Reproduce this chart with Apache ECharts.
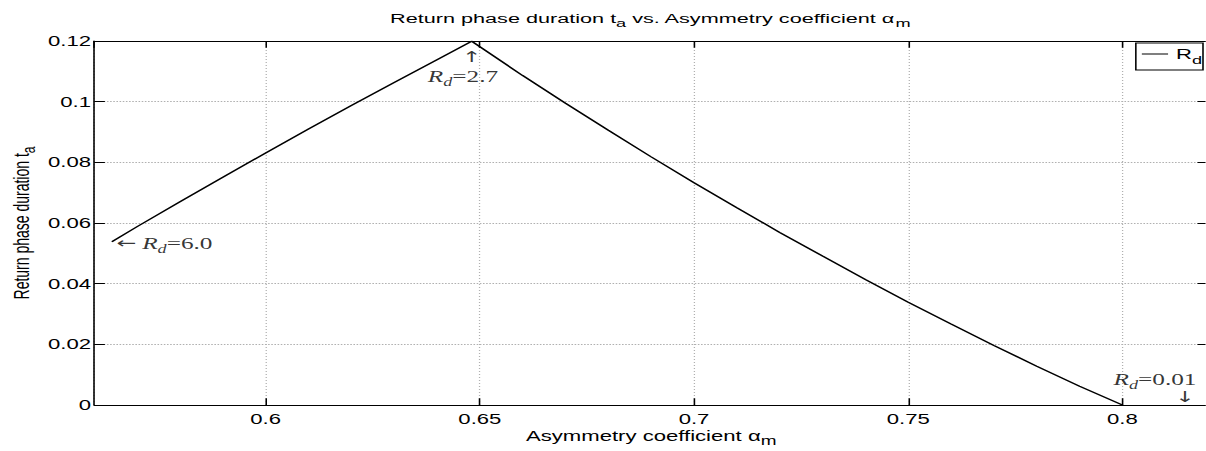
<!DOCTYPE html>
<html><head><meta charset="utf-8">
<script src="https://cdn.jsdelivr.net/npm/echarts@6/dist/echarts.min.js"></script>
<style>
html,body{margin:0;padding:0;background:#fff;overflow:hidden;width:1206px;height:451px}
#wrap{position:absolute;left:0;top:0;width:1206px;height:451px;overflow:hidden;background:#fff}
#c{position:absolute;left:0;top:0;height:451px;transform-origin:0 0}
</style>
</head><body><div id="wrap"><div id="c"></div></div>
<script>
// ---- data ----
const alphaM   = [0.5641, 0.57, 0.58, 0.59, 0.60, 0.61, 0.62, 0.63, 0.64, 0.6481,
                  0.66, 0.67, 0.68, 0.69, 0.70, 0.71, 0.72, 0.73, 0.74, 0.75,
                  0.76, 0.77, 0.78, 0.79, 0.80];
const returnTa = [0.0538, 0.0588, 0.0670, 0.0751, 0.0831, 0.0910, 0.0987, 0.1063, 0.1138, 0.1199,
                  0.1086, 0.0995, 0.0906, 0.0818, 0.0733, 0.0650, 0.0569, 0.0491, 0.0414, 0.0339,
                  0.0267, 0.0196, 0.0128, 0.0062, 0.0000];
const xTicks = [0.6, 0.65, 0.7, 0.75, 0.8];
const yTicks = [0, 0.02, 0.04, 0.06, 0.08, 0.1, 0.12];
const annX = [0.5641, 0.6481, 0.8146];
const annY = [0.0538, 0.1200, 0.0000];
const annRd = ['6.0', '2.7', '0.01'];
const annArrow = ['\u2190', '\u2191', '\u2193'];
const seriesName = 'R_d';

// ---- layout (reference figure is horizontally stretched) ----
const S = 1.58;
const W0 = 1206 / S;
const el = document.getElementById('c');
el.style.width = W0 + 'px';
el.style.transform = 'scaleX(' + S + ')';

const SANS = 'Liberation Sans, Helvetica, Arial, sans-serif';
const SERIF = 'Liberation Serif, Times New Roman, serif';
const ARROW = 'DejaVu Sans, sans-serif';

function subRich(fs, sfs, drop, fam) {
  return {
    n: {fontSize: fs, lineHeight: fs, verticalAlign: 'top', fontFamily: fam, color: '#000'},
    s: {fontSize: sfs, lineHeight: sfs, verticalAlign: 'top', padding: [drop, 0, 0, 0], fontFamily: fam, color: '#000'}
  };
}
const tb = {textBorderWidth: 0, textBorderColor: 'transparent', textShadowBlur: 0};
const annRich = {
  i: Object.assign({fontSize: 16, lineHeight: 16, verticalAlign: 'top', fontStyle: 'italic', fontFamily: SERIF, color: '#000'}, tb),
  d: Object.assign({fontSize: 11.5, lineHeight: 11.5, verticalAlign: 'top', fontStyle: 'italic', padding: [7, 0, 0, 0], fontFamily: SERIF, color: '#000'}, tb),
  n: Object.assign({fontSize: 16, lineHeight: 16, verticalAlign: 'top', fontFamily: SERIF, color: '#000'}, tb),
  a: Object.assign({fontSize: 15, lineHeight: 11, fontFamily: ARROW, color: '#000'}, tb)
};

// offsets in reference pixels
const arrowOff = [[14.3, 1.3], [0, 16], [0, -8]];
const textOff = [[30.3, 2.3], [-8.7, 36], [-30, -25]];
const textAlign = ['left', 'center', 'center'];

const annData = [];
for (let i = 0; i < annX.length; i++) {
  annData.push({
    value: [annX[i], annY[i]],
    label: Object.assign({show: true, position: 'inside', align: 'center', verticalAlign: 'middle', color: '#000',
            fontFamily: ARROW, fontSize: 15, lineHeight: 11,
            offset: [arrowOff[i][0] / S, arrowOff[i][1]],
            formatter: '{a|' + annArrow[i] + '}', rich: annRich}, tb)
  });
  annData.push({
    value: [annX[i], annY[i]],
    label: Object.assign({show: true, position: 'inside', align: textAlign[i], verticalAlign: 'middle', color: '#000',
            offset: [textOff[i][0] / S, textOff[i][1]],
            formatter: '{i|R}{d|d}{n|=' + annRd[i] + '}', rich: annRich}, tb)
  });
}

const chart = echarts.init(el, null, {renderer: 'svg', width: W0, height: 451});
const axisLineStyle = {color: '#000', width: 1};
const TICK = 6.7;
const option = {
  animation: false,
  backgroundColor: '#fff',
  title: {
    text: '{n|Return phase duration t}{s|a}{n| vs. Asymmetry coefficient \u03b1}{s|m}',
    left: 390 / S, top: 11, padding: 0,
    textStyle: {rich: subRich(13.7, 11.5, 6, SANS), fontFamily: SANS, fontWeight: 'normal'}
  },
  legend: {
    data: [{name: seriesName, icon: 'rect'}], right: 1.9, top: 43, orient: 'vertical',
    padding: [4, 0.6, 4, 3.8], itemWidth: 16.6, itemHeight: 1,
    borderColor: '#000', borderWidth: 1, backgroundColor: '#fff',
    itemStyle: {color: '#000', borderWidth: 0},
    formatter: () => '{n|R}{s|d}',
    textStyle: {rich: subRich(14, 11.5, 7, SANS)}
  },
  grid: {left: 94.3 / S, right: (1206 - 1208.1) / S, top: 41, bottom: 46,
         containLabel: false, outerBoundsMode: 'none'},
  xAxis: [{
    type: 'value', min: 0.56, max: 0.82, minInterval: 0.05, maxInterval: 0.05,
    name: '{n|Asymmetry coefficient \u03b1}{s|m}', nameLocation: 'middle', nameGap: 24, nameMoveOverlap: false,
    nameTextStyle: {rich: subRich(14, 12, 6, SANS)},
    axisLine: {show: true, onZero: false, lineStyle: axisLineStyle},
    axisTick: {show: true, inside: true, length: TICK, lineStyle: axisLineStyle},
    axisLabel: {show: true, margin: 7, showMinLabel: false, showMaxLabel: false,
                color: '#000', fontSize: 14, fontFamily: SANS,
                formatter: v => (xTicks.some(t => Math.abs(t - v) < 1e-9) ? String(+v.toFixed(2)) : '')},
    splitLine: {show: true, lineStyle: {color: '#b0b0b0', width: 0.8, type: [1, 2]}}
  }, {
    type: 'value', position: 'top', min: 0.56, max: 0.82, minInterval: 0.05, maxInterval: 0.05,
    axisLine: {show: true, onZero: false, lineStyle: axisLineStyle},
    axisTick: {show: true, inside: true, length: TICK, lineStyle: axisLineStyle},
    axisLabel: {show: false}, splitLine: {show: false}
  }],
  yAxis: [{
    type: 'value', min: 0, max: 0.12, interval: 0.02,
    name: '{n|Return phase duration t}{s|a}', nameLocation: 'middle', nameGap: 39.5, nameRotate: 90,
    nameMoveOverlap: false,
    nameTextStyle: {rich: subRich(14, 12, 6, SANS)},
    axisLine: {show: true, onZero: false, lineStyle: axisLineStyle},
    axisTick: {show: true, inside: true, length: TICK, lineStyle: axisLineStyle},
    axisLabel: {show: true, margin: 2.1, color: '#000', fontSize: 14, fontFamily: SANS,
                formatter: v => String(+v.toFixed(2))},
    splitLine: {show: true, lineStyle: {color: '#b0b0b0', width: 1, type: [1, 1]}}
  }, {
    type: 'value', position: 'right', min: 0, max: 0.12, interval: 0.02,
    axisLine: {show: true, onZero: false, lineStyle: axisLineStyle},
    axisTick: {show: true, inside: true, length: TICK, lineStyle: axisLineStyle},
    axisLabel: {show: false}, splitLine: {show: false}
  }],
  series: [{
    name: seriesName, type: 'line', symbol: 'none', showSymbol: false, smooth: false,
    lineStyle: {color: '#000', width: 1.3}, itemStyle: {color: '#000'},
    data: alphaM.map((x, i) => [x, returnTa[i]]), z: 5
  }, {
    name: 'annotations', type: 'scatter', symbolSize: 1, silent: true,
    itemStyle: {color: 'rgba(0,0,0,0)'}, data: annData, z: 6
  }]
};
chart.setOption(option);
</script>
</body></html>
